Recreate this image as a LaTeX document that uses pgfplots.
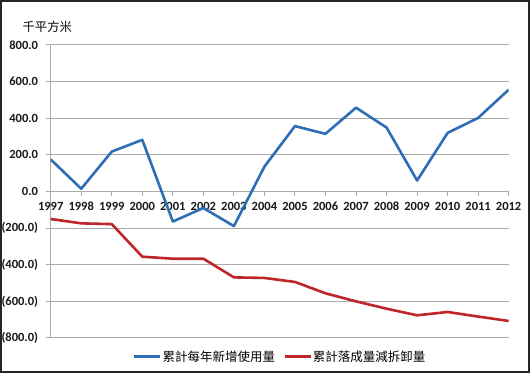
\documentclass[border=0pt]{standalone}
\usepackage{pgfplots}
\pgfplotsset{compat=1.18}
\usepackage{fontspec}
\setmainfont{Carlito}
\newfontfamily\cjk{Noto Sans CJK TC}
\definecolor{cblue}{RGB}{46,110,182}
\definecolor{cred}{RGB}{190,38,42}
\definecolor{cgrid}{RGB}{170,170,170}
\begin{document}
\begin{tikzpicture}
\path[use as bounding box] (0pt,0pt) rectangle (530pt,374pt);
\fill[white] (0pt,0pt) rectangle (530pt,374pt);
\draw[black!85, line width=2pt] (1pt,1.5pt) rectangle (528.5pt,373pt);
\node[anchor=west, inner sep=0pt, font=\cjk\fontsize{12.3}{12.3}\selectfont] at (22.5pt,346.7pt) {千平方米};
\begin{axis}[
  at={(50.7pt,36pt)}, anchor=south west,
  scale only axis, width=458pt, height=293pt,
  xmin=1997, xmax=2012, ymin=-800, ymax=800,
  axis x line*=middle, axis y line*=left,
  hide obscured x ticks=false,
  axis line style={cgrid, line width=1pt},
  xtick={1997,...,2012},
  xticklabels={1997,1998,1999,2000,2001,2002,2003,2004,2005,2006,2007,2008,2009,2010,2011,2012},
  ytick={-800,-600,...,800},
  yticklabels={{(800.0)},{(600.0)},{(400.0)},{(200.0)},{0.0},{200.0},{400.0},{600.0},{800.0}},
  tick align=outside,
  major tick length=4.5pt,
  tick style={cgrid, line width=1pt},
  ymajorgrids, grid style={cgrid, line width=1pt},
  ticklabel style={font=\bfseries\fontsize{12.5}{12.5}\selectfont, text=black!90},
  yticklabel style={anchor=east, inner sep=0pt, xshift=-8pt},
  xticklabel style={anchor=center, inner sep=0pt, yshift=-10pt},
  legend columns=2,
  legend style={at={(0.5,0)}, anchor=center, yshift=-18.5pt, draw=none, fill=none,
    font=\cjk\fontsize{12.5}{12.5}\selectfont,
    /tikz/every even column/.append style={column sep=7pt},
    nodes={inner sep=1pt}},
  legend image code/.code={\draw[#1] (0pt,0pt) -- (26pt,0pt);},
]
\addplot[cblue, line width=2.6pt, line join=round] coordinates {
(1997,175) (1998,15) (1999,218) (2000,282) (2001,-164) (2002,-90) (2003,-189) (2004,136)
(2005,357) (2006,315) (2007,458) (2008,349) (2009,60) (2010,320) (2011,402) (2012,556)};
\addlegendentry{累計每年新增使用量}
\addplot[cred, line width=2.6pt, line join=round] coordinates {
(1997,-150) (1998,-174) (1999,-178) (2000,-356) (2001,-367) (2002,-367) (2003,-469) (2004,-472)
(2005,-494) (2006,-556) (2007,-600) (2008,-640) (2009,-676) (2010,-658) (2011,-683) (2012,-707)};
\addlegendentry{累計落成量減拆卸量}
\end{axis}
\end{tikzpicture}
\end{document}
